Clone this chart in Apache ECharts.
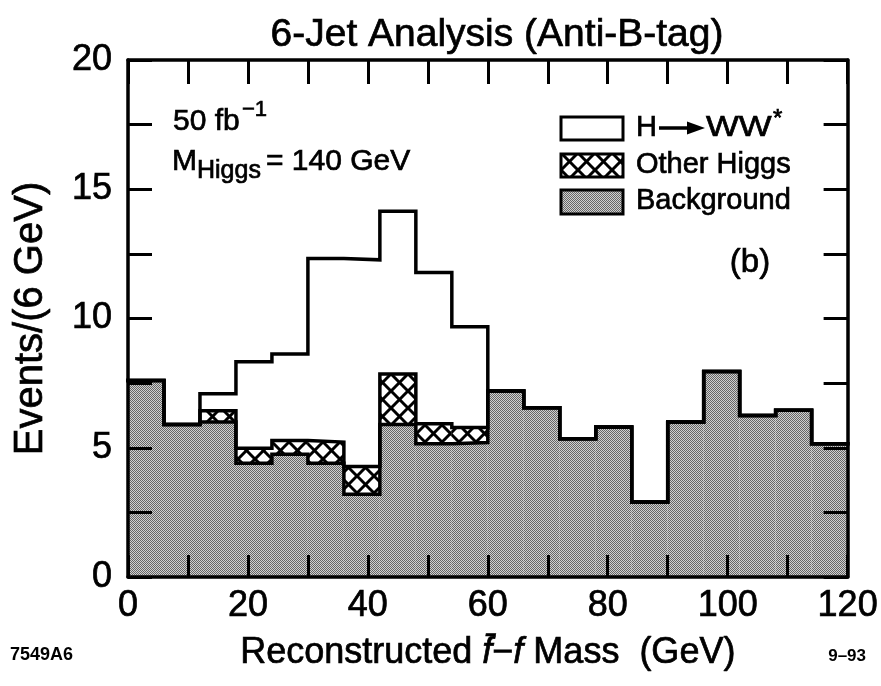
<!DOCTYPE html>
<html><head><meta charset="utf-8">
<script src="https://cdn.jsdelivr.net/npm/echarts@6/dist/echarts.min.js"></script>
<style>html,body{margin:0;padding:0;background:#fff}#c{width:881px;height:686px}</style>
</head><body><div id="c"></div>
<script>
// ---- data ----
const binEdges = [0,6,12,18,24,30,36,42,48,54,60,66,72,78,84,90,96,102,108,114,120];
const background = [7.6,5.9,6.0,4.4,4.75,4.4,3.2,5.9,5.15,5.2,7.2,6.55,5.35,5.8,2.9,6.0,7.95,6.25,6.45,5.15];
const otherHiggs = [0,0,0.43,0.58,0.53,0.82,1.07,1.95,0.78,0.58,0,0,0,0,0,0,0,0,0,0];
const hToWW      = [0,0,0.66,3.35,3.35,7.1,8.0,6.3,5.85,3.9,0,0,0,0,0,0,0,0,0,0];
const xTickLabels = ['0','20','40','60','80','100','120'];
const yTickLabels = ['0','5','10','15','20'];

const FONT = '"Liberation Sans", Arial, Helvetica, sans-serif';
const TB = 0.7; // slight text thickening to mimic the scanned print

// ---- fill patterns ----
function grayPattern(){
  const c = document.createElement('canvas'); c.width = 4; c.height = 4;
  const g = c.getContext('2d');
  for (let i=0;i<4;i++) for (let j=0;j<4;j++){
    g.fillStyle = ((i+j)%2===0) ? '#666666' : '#d0d0d0';
    g.fillRect(i,j,1,1);
  }
  return {image:c, repeat:'repeat'};
}
function hatchPattern(){
  const s = 17;
  const c = document.createElement('canvas'); c.width = s; c.height = s;
  const g = c.getContext('2d');
  g.fillStyle = '#fff'; g.fillRect(0,0,s,s);
  g.strokeStyle = '#000'; g.lineWidth = 3;
  for (const o of [-s,0,s]){
    g.beginPath(); g.moveTo(o,0); g.lineTo(o+s,s); g.stroke();
    g.beginPath(); g.moveTo(o+s,0); g.lineTo(o,s); g.stroke();
  }
  return {image:c, repeat:'repeat'};
}
const GRAY = grayPattern();
const HATCH = hatchPattern();

// ---- build stacked pieces ----
const lvlBkg = background.slice();
const lvlOther = background.map((v,i)=>v+otherHiggs[i]);
const lvlTotal = lvlOther.map((v,i)=>v+hToWW[i]);

function pieces(lo, hi){
  return lo.map((v,i)=>[binEdges[i], binEdges[i+1], v, hi[i]]);
}
function rectRenderer(fill){
  return function(params, api){
    const x0 = api.value(0), x1 = api.value(1), y0 = api.value(2), y1 = api.value(3);
    if (!(y1 > y0)) return null;
    const p0 = api.coord([x0, y1]);
    const p1 = api.coord([x1, y0]);
    return {type:'rect', shape:{x:p0[0], y:p0[1], width:p1[0]-p0[0], height:p1[1]-p0[1]}, style:{fill:fill}};
  };
}
function stepData(lvl){
  const d = lvl.map((v,i)=>[binEdges[i], v]);
  d.push([binEdges[binEdges.length-1], lvl[lvl.length-1]]);
  return d;
}
const zeros = background.map(()=>0);

const stepLine = (name, lvl) => ({
  type:'line', name:name, step:'end', data:stepData(lvl), symbol:'none', z:4,
  lineStyle:{color:'#000', width:3.5, cap:'square', join:'miter'}, silent:true
});

const axisCommon = {
  axisLine:{show:true, onZero:false, lineStyle:{color:'#000', width:3.5}},
  splitLine:{show:false},
  z:6
};
const txt = (size, extra) => Object.assign({fontFamily:FONT, fontSize:size, color:'#000', textBorderColor:'#000', textBorderWidth:TB}, extra||{});
const gtext = (x, y, text, size, extra, el) => Object.assign({type:'text', x:x, y:y,
  style:Object.assign({text:text, font:size+'px '+FONT, fill:'#000', stroke:'#000', lineWidth:TB, verticalAlign:'middle'}, extra||{})}, el||{});

const chart = echarts.init(document.getElementById('c'), null, {renderer:'canvas'});
chart.setOption({
  animation:false,
  backgroundColor:'#fff',
  title:{text:'6-Jet Analysis (Anti-B-tag)', left:492, textAlign:'center', top:11,
    textStyle:txt(39, {fontWeight:'normal'})},
  grid:{left:128, right:31, top:60, bottom:109, containLabel:false},
  xAxis:[
    Object.assign({type:'value', min:0, max:120, interval:10, position:'bottom',
      axisTick:{show:true, inside:true, length:22, lineStyle:{color:'#000', width:3}},
      axisLabel:Object.assign(txt(36), {margin:11,
        formatter:v=> (v%20===0 ? xTickLabels[v/20] : '')}),
      name:'{r|Reconstructed }{i|f\u0304}{r|\u2212}{i|f}{r| Mass  (GeV)}',
      nameLocation:'middle', nameGap:58,
      nameTextStyle:txt(36, {rich:{r:txt(36), i:txt(36, {fontStyle:'italic'})}})
    }, axisCommon),
    Object.assign({type:'value', min:0, max:120, interval:10, position:'top',
      axisTick:{show:true, inside:true, length:24, lineStyle:{color:'#000', width:3}},
      axisLabel:{show:false}}, axisCommon)
  ],
  yAxis:[
    Object.assign({type:'value', min:0, max:20, interval:2.5, position:'left',
      axisTick:{show:true, inside:true, length:24, lineStyle:{color:'#000', width:3}},
      axisLabel:Object.assign(txt(36), {margin:16,
        formatter:v=> (v%5===0 ? yTickLabels[v/5] : '')}),
      name:'Events/(6 GeV)', nameLocation:'middle', nameGap:77, nameRotate:90,
      nameTextStyle:txt(40)
    }, axisCommon),
    Object.assign({type:'value', min:0, max:20, interval:2.5, position:'right',
      axisTick:{show:true, inside:true, length:24, lineStyle:{color:'#000', width:3}},
      axisLabel:{show:false}}, axisCommon)
  ],
  series:[
    {type:'custom', name:'Background', renderItem:rectRenderer(GRAY), data:pieces(zeros, lvlBkg), encode:{x:[0,1], y:[2,3]}, z:2, silent:true},
    {type:'custom', name:'Other Higgs', renderItem:rectRenderer(HATCH), data:pieces(lvlBkg, lvlOther), encode:{x:[0,1], y:[2,3]}, z:2, silent:true},
    {type:'custom', name:'H \u2192 WW*', renderItem:rectRenderer('#fff'), data:pieces(lvlOther, lvlTotal), encode:{x:[0,1], y:[2,3]}, z:2, silent:true},
    stepLine('bkgEdge', lvlBkg),
    stepLine('otherEdge', lvlOther),
    stepLine('totalEdge', lvlTotal)
  ],
  graphic:[
    // annotations
    gtext(173, 122, '50 fb', 30),
    gtext(242, 110, '\u22121', 22),
    gtext(172, 162, 'M', 30),
    gtext(197, 171, 'Higgs', 25),
    gtext(266, 162, '= 140 GeV', 30),
    gtext(750, 263, '(b)', 33, {align:'center'}),
    // legend
    {type:'rect', shape:{x:561, y:117, width:62, height:23}, style:{fill:'#fff', stroke:'#000', lineWidth:3}},
    {type:'rect', shape:{x:561, y:154, width:62, height:23}, style:{fill:HATCH, stroke:'#000', lineWidth:3}},
    {type:'rect', shape:{x:561, y:190, width:62, height:24}, style:{fill:GRAY, stroke:'#000', lineWidth:3}},
    gtext(636, 128, 'H', 29),
    {type:'line', shape:{x1:659, y1:128, x2:692, y2:128}, style:{stroke:'#000', lineWidth:3.5}},
    {type:'polygon', shape:{points:[[687,121.5],[705,128],[687,134.5]]}, style:{fill:'#000'}},
    gtext(706, 128, 'WW', 30, {}, {scaleX:1.16}),
    gtext(773, 119, '*', 24),
    gtext(636, 165, 'Other Higgs', 29),
    gtext(636, 201, 'Background', 29),
    // corner marks
    gtext(10, 655, '7549A6', 18, {font:'bold 18px '+FONT, lineWidth:0}),
    gtext(866, 656, '9\u201393', 17, {font:'bold 17px '+FONT, align:'right', lineWidth:0})
  ]
});
</script>
</body></html>
